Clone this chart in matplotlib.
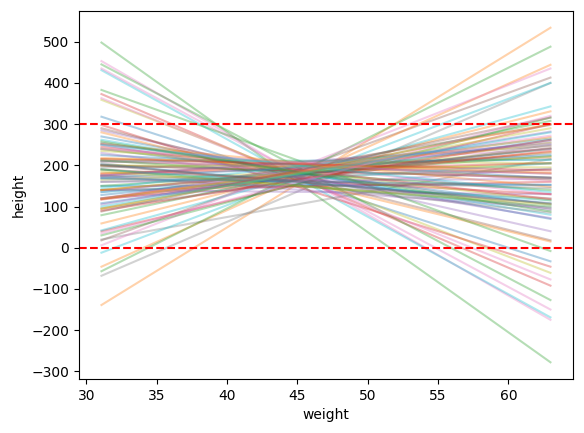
import matplotlib
matplotlib.use("Agg")
import matplotlib.pyplot as plt
import numpy as np

# weight range of the data (x extent of every line)
weight_min = 31.07
weight_max = 62.99

# height of each prior-predictive line at the minimum and maximum weight,
# listed in rows of 10 (column order follows the default colour cycle)
height_at_min = [
    318, -139, 498, 373, 285, 18, 453, -68, 359, 431,
    270, -46, 445, 298, 175, 290, 435, 20, 215, -12,
    240, 59, -57, 40, 140, 200, 363, 195, 165, 42,
    225, 280, 383, 180, 120, 175, 6, 170, 235, 262,
    150, 180, 30, 140, 230, 118, 252, 140, 140, 210,
    170, 140, 79, 190, 135, 210, 210, 205, 240, 135,
    128, 252, 150, 117, 160, 200, 175, 95, 120, 190,
    108, 218, 212, 245, 250, 120, 120, 160, 200, 145,
    202, 118, 190, 90, 175, 200, 240, 255, 185, 250,
    168, 95, 258, 215, 105, 88, 35, 175, 95, 100,
]
height_at_max = [
    -33, 534, -278, -92, 40, 413, -175, 400, -61, -169,
    70, 444, -127, -46, 97, 18, -150, 215, 205, 400,
    105, 331, 488, 300, 130, 170, -77, 215, 205, 343,
    170, 15, -8, 205, 192, 247, 435, 120, 165, 80,
    153, 220, 316, 160, 92, 298, 130, 230, 240, 213,
    225, 232, 308, 130, 257, 180, 180, 85, 115, 205,
    240, 148, 222, 235, 167, 170, 240, 250, 255, 115,
    262, 182, 140, 118, 72, 242, 272, 190, 195, 265,
    108, 268, 100, 262, 252, 107, 162, 95, 105, 135,
    152, 300, 88, 188, 282, 316, 320, 145, 290, 280,
]

# reference lines
ref_levels = [0, 300]

fig = plt.figure(figsize=(5.84, 4.33), dpi=100)
ax = fig.add_axes([0.1353, 0.1247, 0.981 - 0.1353, 0.9746 - 0.1247])

w = np.array([weight_min, weight_max])
for lo, hi in zip(height_at_min, height_at_max):
    ax.plot(w, [lo, hi], alpha=0.35)

for lvl in ref_levels:
    ax.axhline(y=lvl, color="r", linestyle="--")

ax.set_xlabel("weight")
ax.set_ylabel("height")

fig.savefig("out.png", dpi=100)
